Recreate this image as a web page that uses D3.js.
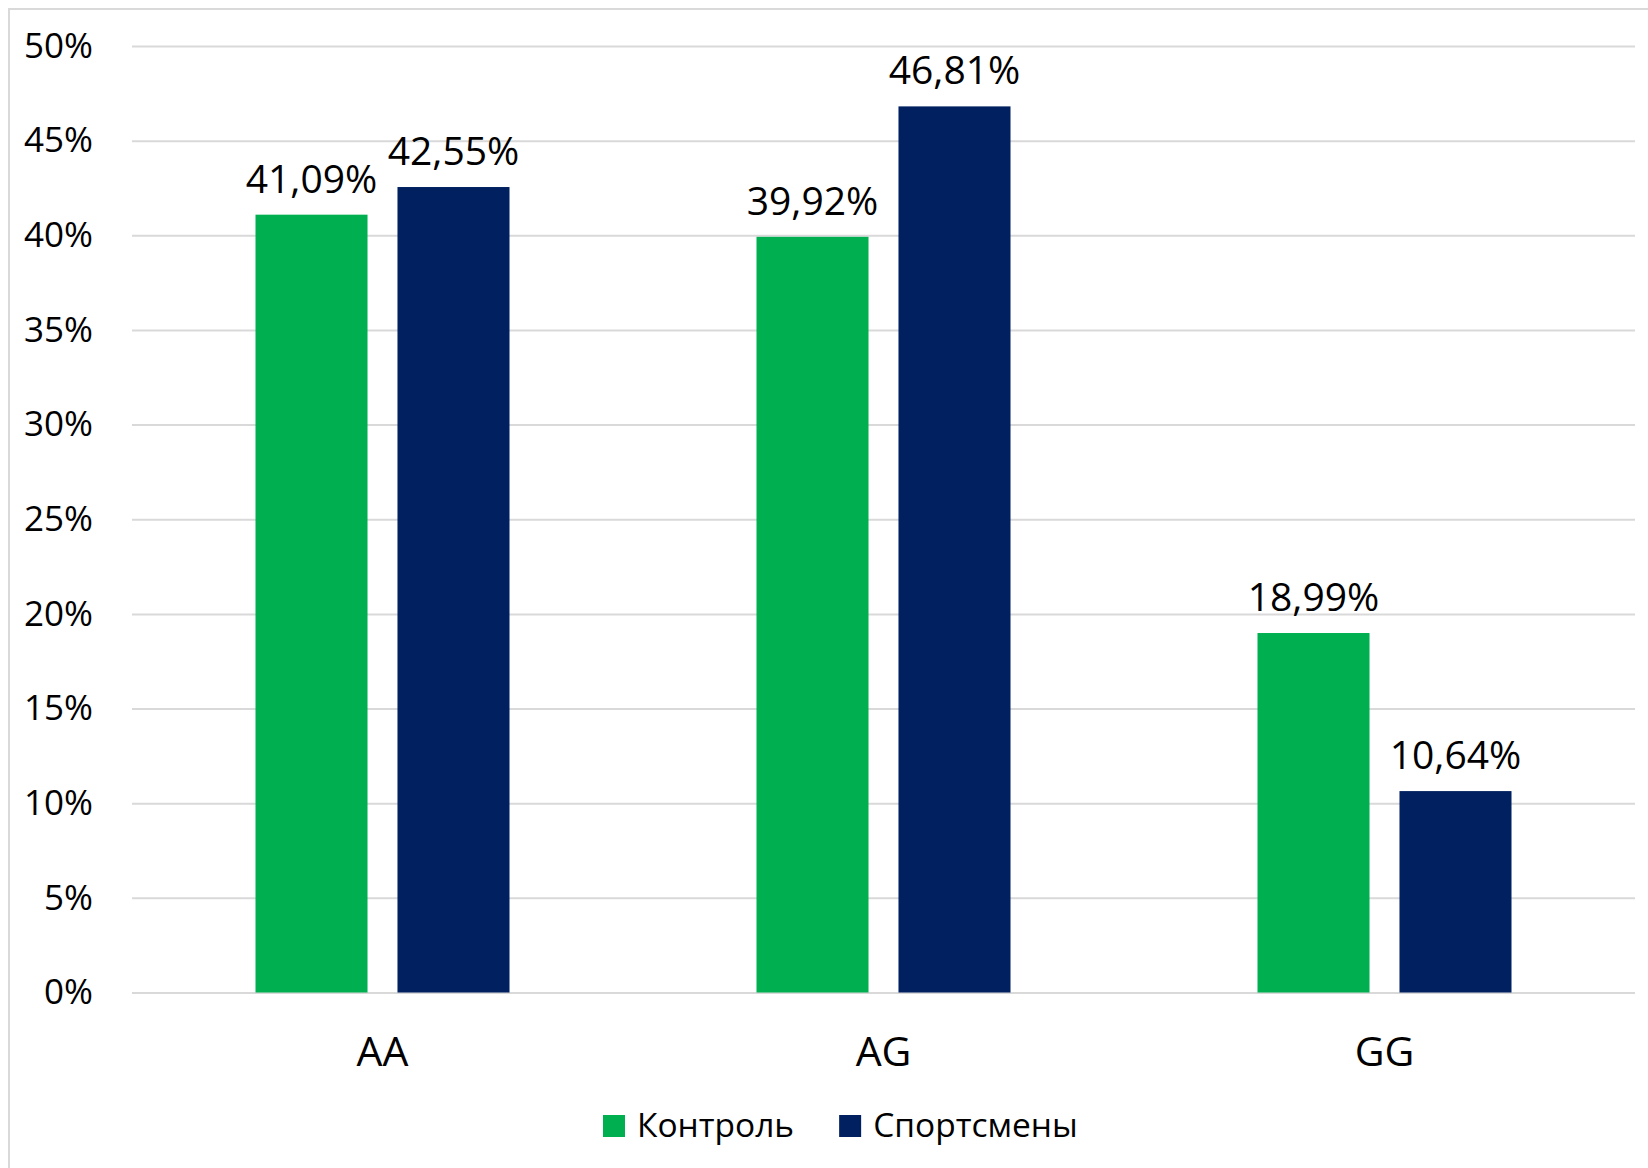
<!DOCTYPE html>
<html>
<head>
<meta charset="utf-8">
<script src="https://cdn.jsdelivr.net/npm/d3@7"></script>
<style>
  html, body { margin: 0; padding: 0; background: #fff; }
  svg { display: block; }
  text { font-family: "Open Sans", "Noto Sans", sans-serif; fill: #000; }
</style>
</head>
<body>
<svg id="chart" width="1648" height="1168"></svg>
<script>
const categories = ["AA", "AG", "GG"];
const seriesNames = ["Контроль", "Спортсмены"];
const seriesColors = ["#00b050", "#002060"];
const kontrol = [41.09, 39.92, 18.99];
const sportsmeny = [42.55, 46.81, 10.64];
const yTicks = [0, 5, 10, 15, 20, 25, 30, 35, 40, 45, 50];

const seriesValues = [kontrol, sportsmeny];
const data = categories.map((c, i) => ({
  cat: c,
  vals: seriesNames.map((s, j) => ({ series: s, idx: j, value: seriesValues[j][i] }))
}));

const svg = d3.select("#chart");
const plot = { left: 132, right: 1635, top: 46, bottom: 992.5 };

// chart border (left + top visible)
svg.append("rect")
  .attr("x", 9).attr("y", 9)
  .attr("width", 1700).attr("height", 1200)
  .attr("fill", "none").attr("stroke", "#d9d9d9").attr("stroke-width", 2);

const y = d3.scaleLinear().domain([0, 50]).range([plot.bottom, plot.top]);
const x0 = d3.scaleBand().domain(categories).range([plot.left, plot.right])
  .paddingInner(0.493).paddingOuter(0.2465);
const x1 = d3.scaleBand().domain(seriesNames).range([0, x0.bandwidth()])
  .paddingInner(0.211).paddingOuter(0);

// gridlines
const yAxis = d3.axisLeft(y).tickValues(yTicks)
  .tickSize(-(plot.right - plot.left)).tickFormat(d => d + "%").tickPadding(39);
const gy = svg.append("g").attr("transform", `translate(${plot.left},0)`).call(yAxis);
gy.select(".domain").remove();
gy.selectAll(".tick line").attr("stroke", "#d9d9d9").attr("stroke-width", 2);
gy.selectAll(".tick text").style("font-size", "35px").attr("fill", "#000")
  .style("font-family", '"Open Sans", sans-serif');

// bars
const groups = svg.append("g").selectAll("g").data(data).join("g")
  .attr("transform", d => `translate(${x0(d.cat)},0)`);
groups.selectAll("rect").data(d => d.vals).join("rect")
  .attr("x", d => x1(d.series))
  .attr("width", x1.bandwidth())
  .attr("y", d => y(d.value))
  .attr("height", d => y(0) - y(d.value))
  .attr("fill", d => seriesColors[d.idx]);

// data labels
groups.selectAll("text.lbl").data(d => d.vals).join("text")
  .attr("class", "lbl")
  .attr("x", d => x1(d.series) + x1.bandwidth() / 2)
  .attr("y", d => y(d.value) - 22)
  .attr("text-anchor", "middle")
  .style("font-size", "39px")
  .text(d => d.value.toFixed(2).replace(".", ",") + "%");

// x axis labels
const xAxis = d3.axisBottom(x0).tickSize(0).tickPadding(0);
const gx = svg.append("g").attr("transform", `translate(0,${plot.bottom})`).call(xAxis);
gx.select(".domain").remove();
gx.selectAll(".tick text")
  .attr("y", 73).attr("dy", 0)
  .style("font-size", "41px").attr("fill", "#000")
  .style("font-family", '"Open Sans", sans-serif');

// legend
const legend = svg.append("g");
let lx = 603;
const ly = 1137;
seriesNames.forEach((s, i) => {
  legend.append("rect").attr("x", lx).attr("y", ly - 22).attr("width", 22).attr("height", 22)
    .attr("fill", seriesColors[i]);
  const t = legend.append("text").attr("x", lx + 34).attr("y", ly)
    .style("font-size", "33.5px").text(s);
  lx += 34 + t.node().getComputedTextLength() + 45;
});
</script>
</body>
</html>
